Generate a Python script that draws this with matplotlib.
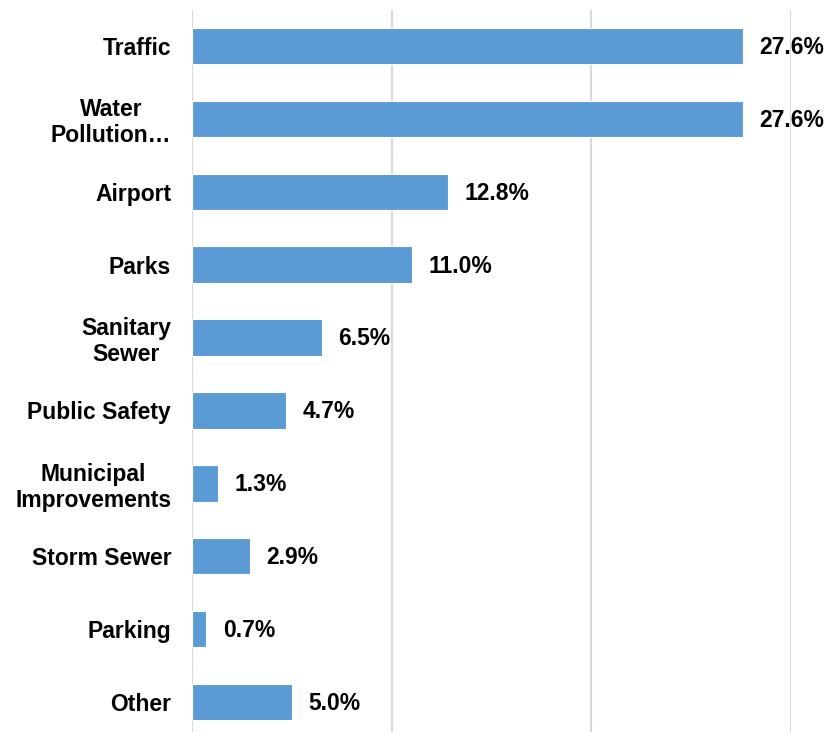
import numpy as np
import matplotlib.pyplot as plt

plt.rcParams['font.family'] = ['Liberation Sans', 'DejaVu Sans']

# Share of spending by category (%)
categories = ['Traffic', 'Water\nPollution…', 'Airport', 'Parks', 'Sanitary\nSewer',
              'Public Safety', 'Municipal\nImprovements', 'Storm Sewer', 'Parking', 'Other']
shares = [27.6, 27.6, 12.8, 11.0, 6.5, 4.7, 1.3, 2.9, 0.7, 5.0]

fig = plt.figure(figsize=(8.28, 7.32), dpi=100)
W, H = 828, 732
x0, x1 = 192, 791
y_top, y_bot = 9.5, 738.5
ax = fig.add_axes([x0 / W, 1 - y_bot / H, (x1 - x0) / W, (y_bot - y_top) / H])

y = np.arange(len(categories))
ax.barh(y, shares, height=0.5, color='#5B9BD5', edgecolor='white', linewidth=0.8, zorder=3)

ax.set_xlim(0, 30)
ax.set_ylim(len(categories) - 0.5, -0.5)
ax.set_xticks([0, 10, 20, 30])
ax.xaxis.grid(True, color='#D9D9D9', linewidth=1.5, zorder=0)
ax.tick_params(axis='x', length=0, labelbottom=False)
ax.tick_params(axis='y', length=0, pad=15)
ax.set_yticks(y)
ax.set_yticklabels(categories, fontsize=16.5, fontweight='bold', linespacing=1.15,
                   multialignment='center')
for s in ax.spines.values():
    s.set_visible(False)

for yi, v in zip(y, shares):
    ax.annotate(f'{v:.1f}%', (v, yi), xytext=(12, -1), textcoords='offset points',
                ha='left', va='center', fontsize=16.5, fontweight='bold',
                annotation_clip=False)

fig.savefig('out.png', dpi=100)
